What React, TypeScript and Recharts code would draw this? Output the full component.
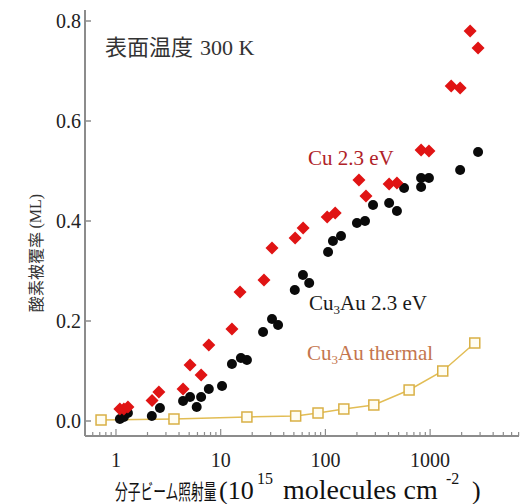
import React from 'react';
import { ScatterChart, Scatter, XAxis, YAxis, Customized } from 'recharts';

// Cu 2.3 eV (red diamonds)
const cuDose = [1.09, 1.19, 1.3, 2.21, 2.57, 4.37, 5.1, 6.5, 7.7, 12.8, 15.3, 25.9, 30.9, 51.4, 61.3, 104, 124, 209, 244, 406, 482, 820, 974, 1590, 1935, 2410, 2870];
const cuCoverage = [0.024, 0.024, 0.028, 0.041, 0.058, 0.064, 0.112, 0.092, 0.152, 0.184, 0.258, 0.282, 0.346, 0.366, 0.386, 0.408, 0.416, 0.482, 0.45, 0.474, 0.476, 0.542, 0.54, 0.67, 0.666, 0.78, 0.746];

// Cu3Au 2.3 eV (black circles)
const auDose = [1.09, 1.19, 1.3, 2.2, 2.63, 4.37, 5.1, 5.9, 6.5, 7.7, 10.3, 12.8, 15.6, 17.8, 25.4, 30.9, 35.3, 51, 61, 70, 106, 118, 141, 200, 239, 285, 406, 482, 564, 820, 820, 974, 1935, 2870];
const auCoverage = [0.004, 0.008, 0.016, 0.01, 0.026, 0.04, 0.048, 0.028, 0.048, 0.064, 0.07, 0.114, 0.126, 0.122, 0.178, 0.204, 0.192, 0.262, 0.292, 0.276, 0.338, 0.36, 0.37, 0.396, 0.4, 0.432, 0.436, 0.42, 0.466, 0.468, 0.486, 0.486, 0.502, 0.538];

// Cu3Au thermal (open squares + line)
const thDose = [0.72, 3.58, 17.8, 52, 85, 150, 290, 630, 1320, 2670];
const thCoverage = [0.002, 0.004, 0.008, 0.01, 0.016, 0.024, 0.032, 0.062, 0.1, 0.156];

const yTicks = [0, 0.2, 0.4, 0.6, 0.8];
const decades = [1, 10, 100, 1000];

const xTicks: number[] = [];
[0.1, 1, 10, 100, 1000].forEach((d) => {
  for (let m = 1; m <= 9; m++) {
    const v = d * m;
    if (v >= 0.51 && v <= 7000) xTicks.push(v);
  }
});

const zip = (xs: number[], ys: number[]) => xs.map((x, i) => ({ x, y: ys[i] }));
const cuData = zip(cuDose, cuCoverage);
const auData = zip(auDose, auCoverage);
const thData = zip(thDose, thCoverage);

const AXIS = '#8c8c8c';
const SERIF = '"Liberation Serif", "Times New Roman", serif';
const CJK = '"Noto Sans CJK JP", sans-serif';

const Diamond = (p: any) => {
  const { cx, cy } = p;
  const r = 6.5;
  return <path d={`M${cx},${cy - r}L${cx + r},${cy}L${cx},${cy + r}L${cx - r},${cy}Z`} fill="#e01414" />;
};
const Dot = (p: any) => <circle cx={p.cx} cy={p.cy} r={5} fill="#0a0a0a" />;
const Square = (p: any) => (
  <rect x={p.cx - 5} y={p.cy - 5} width={10} height={10} fill="#fffdf2" stroke="#d9b045" strokeWidth={1.5} />
);

const XTick = (p: any) => {
  const { x, y, payload } = p;
  const major = decades.includes(payload.value);
  return (
    <g>
      <line x1={x} y1={y} x2={x} y2={y - (major ? 7 : 4)} stroke={AXIS} strokeWidth={1.2} />
      {major && (
        <text x={x} y={y + 31} textAnchor="middle" fontFamily={SERIF} fontSize={20} fill="#222">
          {payload.value}
        </text>
      )}
    </g>
  );
};

const YTick = (p: any) => {
  const { x, y, payload } = p;
  return (
    <g>
      <line x1={x} y1={y} x2={x + 6} y2={y} stroke={AXIS} strokeWidth={1.5} />
      <text x={x - 4} y={y + 7} textAnchor="end" fontFamily={SERIF} fontSize={20} fill="#222">
        {payload.value.toFixed(1)}
      </text>
    </g>
  );
};

const Annotations = () => (
  <g>
    <text x={105} y={55} fontFamily={CJK} fontSize={22} fill="#333">表面温度</text>
    <text x={200} y={55} fontFamily={SERIF} fontSize={22} fill="#333">300 K</text>
    <text x={308} y={165} fontFamily={SERIF} fontSize={21} fill="#b02228">Cu 2.3 eV</text>
    <text x={309} y={310} fontFamily={SERIF} fontSize={21} fill="#1a1a1a">
      Cu<tspan fontSize={13} dy={4}>3</tspan><tspan dy={-4}>Au 2.3 eV</tspan>
    </text>
    <text x={307} y={360} fontFamily={SERIF} fontSize={21} fill="#c4764e">
      Cu<tspan fontSize={13} dy={4}>3</tspan><tspan dy={-4}>Au thermal</tspan>
    </text>
    {/* y label */}
    <g transform="translate(35,253) rotate(-90)">
      <text x={0} y={0} textAnchor="middle" dominantBaseline="central" fontSize={16} fill="#333">
        <tspan fontFamily={CJK}>酸素被覆率 </tspan>
        <tspan fontFamily={SERIF}>(ML)</tspan>
      </text>
    </g>
    {/* x label */}
    <g transform="translate(115,499) scale(0.607,1)">
      <text x={0} y={0} fontFamily={CJK} fontSize={21} fill="#111">分子ビーム照射量</text>
    </g>
    <text x={219} y={499} fontFamily={SERIF} fontSize={26} fill="#111">(10</text>
    <text x={257} y={484} fontFamily={SERIF} fontSize={16} fill="#111">15</text>
    <text x={283} y={499} fontFamily={SERIF} fontSize={28} fill="#111">molecules cm</text>
    <text x={446} y={484} fontFamily={SERIF} fontSize={16} fill="#111">-2</text>
    <text x={472} y={499} fontFamily={SERIF} fontSize={26} fill="#111">)</text>
  </g>
);

export default function App() {
  return (
    <div style={{ position: 'absolute', left: 0, top: 0, background: '#fff' }}>
      <ScatterChart width={523} height={504} margin={{ top: 10, right: 4, bottom: 28, left: 0 }}>
        <XAxis
          dataKey="x"
          type="number"
          scale="log"
          domain={[0.506, 7060]}
          allowDataOverflow
          ticks={xTicks}
          interval={0}
          height={40}
          tickSize={0}
          tickMargin={0}
          tick={<XTick />}
          axisLine={{ stroke: AXIS, strokeWidth: 2 }}
          tickLine={false}
        />
        <XAxis xAxisId="top" orientation="top" type="number" domain={[0, 1]} height={0} tick={false} tickLine={false} axisLine={{ stroke: AXIS, strokeWidth: 2 }} />
        <YAxis
          dataKey="y"
          type="number"
          domain={[-0.03, 0.822]}
          allowDataOverflow
          ticks={yTicks}
          interval={0}
          width={85}
          tickSize={0}
          tickMargin={0}
          tick={<YTick />}
          axisLine={{ stroke: AXIS, strokeWidth: 2 }}
          tickLine={false}
        />
        <YAxis yAxisId="right" orientation="right" type="number" domain={[0, 1]} width={0} tick={false} tickLine={false} axisLine={{ stroke: AXIS, strokeWidth: 2 }} />
        <Scatter data={thData} shape={<Square />} line={{ stroke: '#e2bd55', strokeWidth: 1.5 }} isAnimationActive={false} />
        <Scatter data={auData} shape={<Dot />} isAnimationActive={false} />
        <Scatter data={cuData} shape={<Diamond />} isAnimationActive={false} />
        <Customized component={Annotations} />
      </ScatterChart>
    </div>
  );
}
